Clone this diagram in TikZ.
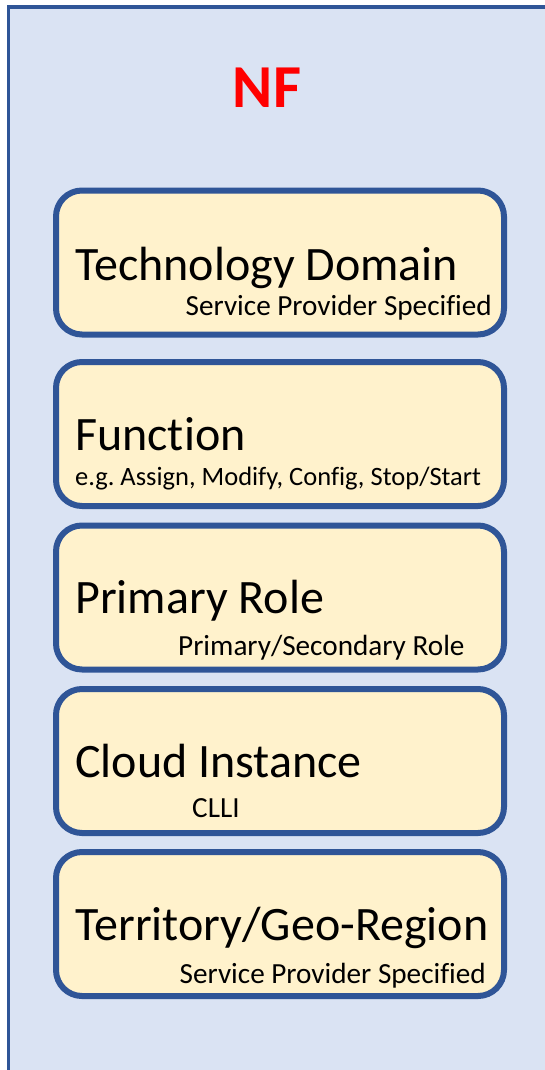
\documentclass[tikz,border=0pt]{standalone}
\usepackage{fontspec}
\setmainfont[Ligatures=NoCommon]{Carlito}
\definecolor{panelfill}{HTML}{DAE3F3}
\definecolor{darkblue}{HTML}{2F5597}
\definecolor{boxfill}{HTML}{FFF2CC}
\definecolor{nfred}{HTML}{FF0000}
\tikzset{
  layerbox/.style={draw=darkblue, fill=boxfill, line width=6pt, rounded corners=26pt,
    minimum width=448pt, minimum height=144pt, inner sep=0pt},
  maintxt/.style={inner sep=0pt, font=\fontsize{48}{50}\selectfont, anchor=base west},
  subtxt/.style={inner sep=0pt, font=\fontsize{29.2}{31}\selectfont},
}
\begin{document}
\begin{tikzpicture}[x=1pt, y=-1pt]
\useasboundingbox (0,0) rectangle (545,1070);
\clip (0,0) rectangle (545,1070);
\node[draw=darkblue, fill=panelfill, line width=3.2pt, minimum width=600pt, minimum height=1120pt, inner sep=0pt, anchor=north west] (panel) at (6.5,5.5) {};
\node[inner sep=0pt, anchor=base, text=nfred, font=\fontsize{61}{64}\bfseries\selectfont] (title) at (267,108) {NF};

\node[layerbox] (b1) at (280,262.5) {};
\node[layerbox] (b2) at (280,434) {};
\node[layerbox] (b3) at (280,597.5) {};
\node[layerbox] (b4) at (280,761) {};
\node[layerbox] (b5) at (280,924) {};

\node[maintxt] (t1) at (75,280) {Technology Domain};
\node[subtxt, anchor=base east] (s1) at (492,315) {Service Provider Specified};

\node[maintxt] (t2) at (75,450) {Function};
\node[subtxt, anchor=base west, font=\fontsize{26.5}{28}\selectfont] (s2) at (75,485) {e.g.\ Assign, Modify, Config, Stop/Start};

\node[maintxt] (t3) at (75,613) {Primary Role};
\node[subtxt, anchor=base west] (s3) at (178,655) {Primary/Secondary Role};

\node[maintxt] (t4) at (75,777) {Cloud Instance};
\node[subtxt, anchor=base west] (s4) at (192,817) {CLLI};

\node[maintxt] (t5) at (75,940) {Territory/Geo-Region};
\node[subtxt, anchor=base east] (s5) at (486,983) {Service Provider Specified};
\end{tikzpicture}
\end{document}
